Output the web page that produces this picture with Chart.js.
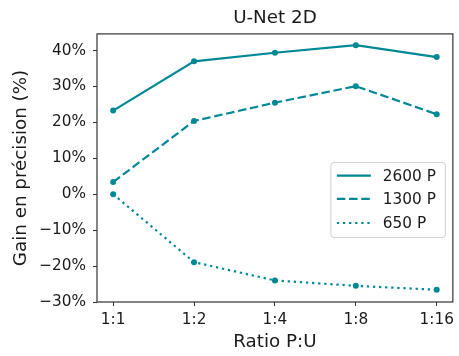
<!DOCTYPE html>
<html>
<head>
<meta charset="utf-8">
<script src="https://cdn.jsdelivr.net/npm/chart.js@4/dist/chart.umd.min.js"></script>
<style>
  html, body { margin: 0; padding: 0; background: #fff; }
  #wrap { width: 459px; height: 356px; }
</style>
</head>
<body>
<div id="wrap"><canvas id="gainChart" width="459" height="356"></canvas></div>
<script>
// Data
const ratios = ['1:1', '1:2', '1:4', '1:8', '1:16'];
const gain2600 = [23.3, 37.0, 39.4, 41.5, 38.2];
const gain1300 = [3.4, 20.4, 25.5, 30.1, 22.3];
const gain650 = [0.0, -18.9, -24.0, -25.5, -26.6];
const yTicks = [-30, -20, -10, 0, 10, 20, 30, 40];

const teal = '#008896';
const font = 'DejaVu Sans';
const chartTitle = 'U-Net 2D';

function toPoints(values) {
    return values.map((v, i) => ({ x: i, y: v }));
}

// Title centred over the plot, full box round the plot and the legend inside it
const boxPlugin = {
    id: 'boxPlugin',
    afterDraw(chart) {
        const ctx = chart.ctx;
        const a = chart.chartArea;
        ctx.save();
        ctx.strokeStyle = '#333';
        ctx.lineWidth = 1.2;
        ctx.strokeRect(a.left, a.top, a.right - a.left, a.bottom - a.top);

        ctx.fillStyle = '#1a1a1a';
        ctx.font = '18.3px "' + font + '"';
        ctx.textAlign = 'center';
        ctx.textBaseline = 'middle';
        ctx.fillText(chartTitle, (a.left + a.right) / 2, 18);

        // legend
        const lx = a.right - 122, ly = 162.5, lw = 114.5, lh = 75;
        ctx.beginPath();
        ctx.roundRect(lx, ly, lw, lh, 3);
        ctx.fillStyle = 'rgba(255,255,255,0.85)';
        ctx.fill();
        ctx.strokeStyle = '#d0d0d0';
        ctx.lineWidth = 1;
        ctx.stroke();
        const rows = [175.7, 198.8, 223.0];
        chart.data.datasets.forEach((ds, i) => {
            const y = rows[i];
            ctx.beginPath();
            ctx.setLineDash(ds.borderDash || []);
            ctx.strokeStyle = ds.borderColor;
            ctx.lineWidth = ds.borderWidth;
            ctx.moveTo(lx + 6, y);
            ctx.lineTo(lx + 40, y);
            ctx.stroke();
            ctx.setLineDash([]);
            ctx.fillStyle = '#1a1a1a';
            ctx.font = '15.3px "' + font + '"';
            ctx.textBaseline = 'middle';
            ctx.textAlign = 'left';
            ctx.fillText(ds.label, lx + 52, y + 1);
        });
        ctx.restore();
    }
};

const ctx = document.getElementById('gainChart').getContext('2d');

new Chart(ctx, {
    type: 'line',
    data: {
        datasets: [
            { label: '2600 P', data: toPoints(gain2600), borderDash: [] },
            { label: '1300 P', data: toPoints(gain1300), borderDash: [8.5, 3.7] },
            { label: '650 P', data: toPoints(gain650), borderDash: [2.3, 3.8] }
        ].map(ds => ({
            ...ds,
            borderColor: teal,
            backgroundColor: teal,
            borderWidth: 2.2,
            borderCapStyle: 'butt',
            pointRadius: 3,
            pointBorderWidth: 0,
            pointHoverRadius: 3,
            tension: 0,
            fill: false
        }))
    },
    options: {
        responsive: false,
        animation: false,
        events: [],
        layout: { padding: { left: 0, right: 0, top: 33.9, bottom: 0 } },
        plugins: {
            legend: { display: false },
            tooltip: { enabled: false },
            title: { display: false }
        },
        scales: {
            x: {
                type: 'linear',
                min: -0.2,
                max: 4.2,
                afterBuildTicks: scale => {
                    scale.ticks = ratios.map((r, i) => ({ value: i }));
                },
                afterFit: scale => { scale.height = 54; },
                ticks: {
                    callback: v => ratios[v],
                    color: '#1a1a1a',
                    font: { family: font, size: 15.3 },
                    padding: 5,
                    maxRotation: 0,
                    autoSkip: false
                },
                grid: { drawOnChartArea: false, drawTicks: true, tickLength: 4, color: '#333', lineWidth: 1 },
                border: { display: false },
                title: {
                    display: true,
                    text: 'Ratio P:U',
                    color: '#1a1a1a',
                    font: { family: font, size: 18.3 },
                    padding: { top: 0, bottom: 3 }
                }
            },
            y: {
                min: -30,
                max: 44.65,
                afterBuildTicks: scale => {
                    scale.ticks = yTicks.map(v => ({ value: v }));
                },
                afterFit: scale => { scale.width = 97; },
                ticks: {
                    callback: v => (v < 0 ? '\u2212' + Math.abs(v) : v) + '%',
                    color: '#1a1a1a',
                    font: { family: font, size: 15.3 },
                    padding: 7
                },
                grid: { drawOnChartArea: false, drawTicks: true, tickLength: 4, color: '#333', lineWidth: 1 },
                border: { display: false },
                title: {
                    display: true,
                    text: 'Gain en précision (%)',
                    color: '#1a1a1a',
                    font: { family: font, size: 18.3 },
                    padding: { top: 10, bottom: 0 }
                }
            }
        }
    },
    plugins: [boxPlugin]
});
</script>
</body>
</html>
